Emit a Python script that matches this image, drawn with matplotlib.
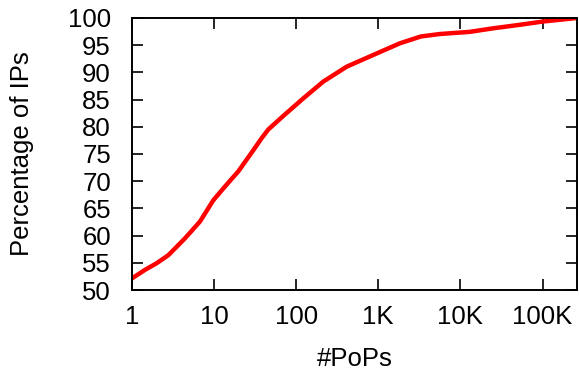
import matplotlib
matplotlib.use("Agg")
import matplotlib.pyplot as plt
from matplotlib.ticker import FixedLocator, FixedFormatter, NullLocator

pops = [1, 1.45, 2.0, 2.79, 4.45, 6.78, 9.84, 13.6, 19.8, 30.2, 38.1, 45.9, 69.9,
        122, 214, 413, 869, 1837, 3300, 5600, 8500, 13000, 25000, 52900,
        101000, 262144]
pct = [52.1, 53.7, 54.9, 56.4, 59.5, 62.6, 66.5, 69.0, 71.8, 75.7, 77.9, 79.5, 82.0,
       85.2, 88.3, 91.05, 93.2, 95.35, 96.6, 97.05, 97.25, 97.45, 98.1, 98.75,
       99.35, 100.0]

xticks = [1, 10, 100, 1000, 10000, 100000]
xticklabels = ["1", "10", "100", "1K", "10K", "100K"]
yticks = [50, 55, 60, 65, 70, 75, 80, 85, 90, 95, 100]

plt.rcParams['font.family'] = ['Liberation Sans', 'DejaVu Sans']

fig = plt.figure(figsize=(5.79, 3.70), dpi=100)
ax = fig.add_axes([0.2275, 0.2162, 0.9965 - 0.2275, 0.9514 - 0.2162])
ax.plot(pops, pct, color='#ff0000', linewidth=3.2, solid_capstyle='round',
        solid_joinstyle='round')
ax.set_xscale('log')
ax.set_xlim(1, 262144)
ax.set_ylim(50, 100)
ax.xaxis.set_major_locator(FixedLocator(xticks))
ax.xaxis.set_major_formatter(FixedFormatter(xticklabels))
ax.xaxis.set_minor_locator(NullLocator())
ax.set_yticks(yticks)
ax.tick_params(axis='both', which='major', direction='in', length=8, width=1.2,
               top=True, right=True, labelsize=18.5, pad=11)
ax.tick_params(axis='y', pad=15)
for s in ax.spines.values():
    s.set_linewidth(1.4)
ax.set_xlabel('#PoPs', fontsize=18.5, labelpad=13)
ax.set_ylabel('Percentage of IPs', fontsize=18.5, labelpad=24)
fig.savefig('out.png', dpi=100)
